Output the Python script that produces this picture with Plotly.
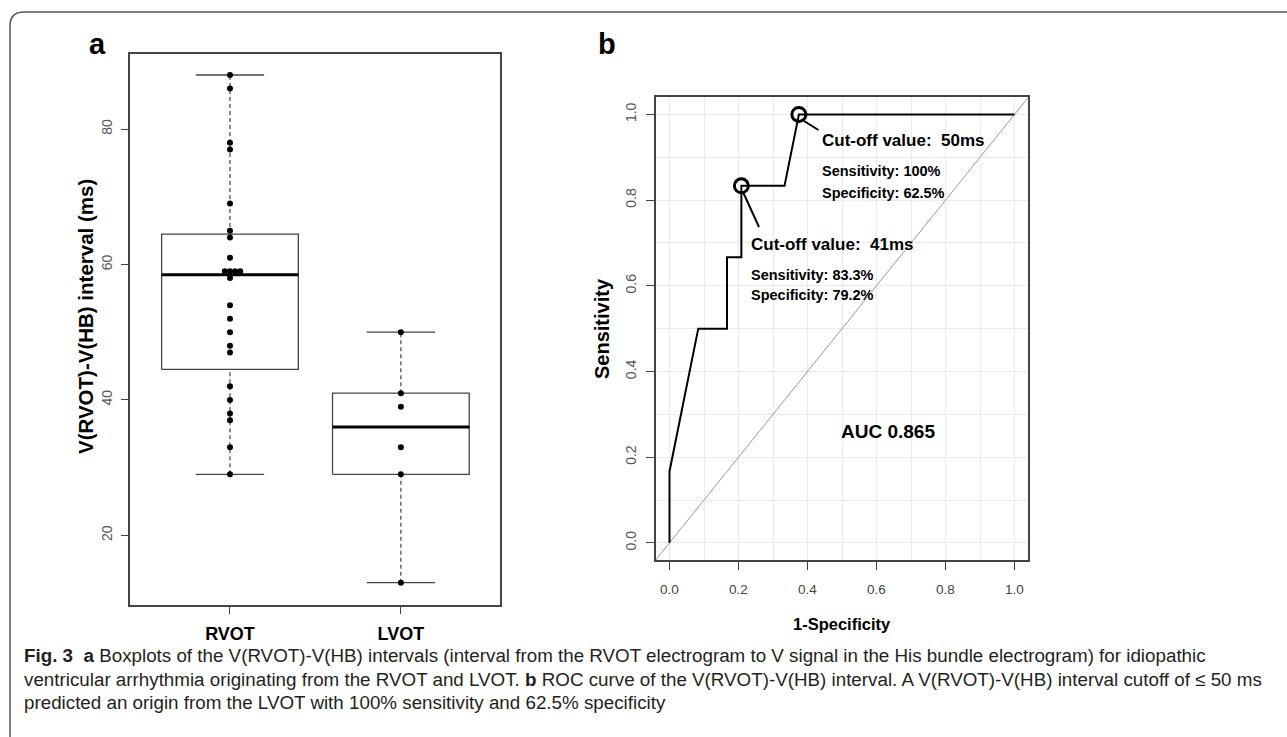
import numpy as np
import plotly.graph_objects as go

# ---------------- data ----------------
groups = ["RVOT", "LVOT"]
rvot_ms = [88, 86, 78, 77, 69, 65, 64, 61, 59, 59, 59, 59, 58, 54, 52, 50, 48, 47, 42, 40, 38, 37, 33, 29]
lvot_ms = [50, 41, 39, 33, 29, 13]
cutoffs_ms = [41, 50]
auc_label = "AUC 0.865"
y_ticks_a = [20, 40, 60, 80]
x_ticks_b = [0.0, 0.2, 0.4, 0.6, 0.8, 1.0]
y_ticks_b = [0.0, 0.2, 0.4, 0.6, 0.8, 1.0]

W, H = 1287, 737
def px(x):
    return x / W
def py(y):
    return 1 - y / H

SANS = "Liberation Sans, Arial, sans-serif"
AXC = "#444444"

def fivenum(v):
    x = np.sort(np.asarray(v, dtype=float))
    n = len(x)
    n4 = np.floor((n + 3) / 2) / 2
    d = np.array([1, n4, (n + 1) / 2, n + 1 - n4, n])
    return 0.5 * (x[np.floor(d).astype(int) - 1] + x[np.ceil(d).astype(int) - 1])

fig = go.Figure()

# ---------------- panel a: boxplots ----------------
bw = 0.4
for gi, vals in enumerate([rvot_ms, lvot_ms]):
    xc = gi + 1
    mn, q1, med, q3, mx = fivenum(vals)
    iqr = q3 - q1
    arr = np.asarray(vals, dtype=float)
    lo = arr[arr >= q1 - 1.5 * iqr].min()
    hi = arr[arr <= q3 + 1.5 * iqr].max()
    for a, b in [(lo, q1), (q3, hi)]:
        fig.add_trace(go.Scatter(x=[xc, xc], y=[a, b], mode="lines",
                                 line=dict(color=AXC, width=1.2, dash="4px,3px"),
                                 xaxis="x", yaxis="y", showlegend=False, hoverinfo="skip"))
    for v in (lo, hi):
        fig.add_trace(go.Scatter(x=[xc - bw / 2, xc + bw / 2], y=[v, v], mode="lines",
                                 line=dict(color=AXC, width=1.3),
                                 xaxis="x", yaxis="y", showlegend=False, hoverinfo="skip"))
    fig.add_trace(go.Scatter(x=[xc - bw, xc + bw, xc + bw, xc - bw, xc - bw],
                             y=[q1, q1, q3, q3, q1], mode="lines",
                             line=dict(color=AXC, width=1.3),
                             xaxis="x", yaxis="y", showlegend=False, hoverinfo="skip"))
    fig.add_trace(go.Scatter(x=[xc - bw, xc + bw], y=[med, med], mode="lines",
                             line=dict(color="black", width=3),
                             xaxis="x", yaxis="y", showlegend=False, hoverinfo="skip"))
    seq = [0, -1, 1, 2, -2, 3, -3]
    counts = {}
    xs, ys = [], []
    for v in vals:
        k = counts.get(v, 0)
        counts[v] = k + 1
        xs.append(xc + seq[k] * 0.03)
        ys.append(v)
    fig.add_trace(go.Scatter(x=xs, y=ys, mode="markers",
                             marker=dict(color="black", size=6),
                             xaxis="x", yaxis="y", showlegend=False))

# ---------------- panel b: ROC ----------------
allv = np.sort(np.unique(np.array(rvot_ms + lvot_ms, dtype=float)))
lv = np.array(lvot_ms, dtype=float)
rv = np.array(rvot_ms, dtype=float)
fpr = [0.0] + [float(np.mean(rv <= t)) for t in allv]
tpr = [0.0] + [float(np.mean(lv <= t)) for t in allv]

fig.add_trace(go.Scatter(x=[-0.04, 1.04], y=[-0.04, 1.04], mode="lines",
                         line=dict(color="#9a9a9a", width=1),
                         xaxis="x2", yaxis="y2", showlegend=False, hoverinfo="skip"))
fig.add_trace(go.Scatter(x=fpr, y=tpr, mode="lines",
                         line=dict(color="black", width=2),
                         xaxis="x2", yaxis="y2", showlegend=False))
cx = [float(np.mean(rv <= c)) for c in cutoffs_ms]
cy = [float(np.mean(lv <= c)) for c in cutoffs_ms]
fig.add_trace(go.Scatter(x=cx, y=cy, mode="markers",
                         marker=dict(symbol="circle-open", size=14, color="black",
                                     line=dict(width=3, color="black")),
                         xaxis="x2", yaxis="y2", showlegend=False))

# ---------------- layout ----------------
a_x0, a_x1, a_y0, a_y1 = 130, 500, 54, 605
b_x0, b_x1, b_y0, b_y1 = 655.7, 1028.3, 97.3, 560

fig.update_layout(
    width=W, height=H,
    margin=dict(l=0, r=0, t=0, b=0),
    paper_bgcolor="white", plot_bgcolor="white",
    showlegend=False,
    xaxis=dict(domain=[px(a_x0), px(a_x1)], range=[0.415, 2.58],
               tickvals=[1, 2], ticktext=["<b>%s</b>" % g for g in groups],
               tickfont=dict(family=SANS, size=18, color="black"),
               ticks="outside", ticklen=7, tickcolor=AXC, tickwidth=1.2,
               showline=True, mirror=True, linecolor=AXC, linewidth=1.5,
               showgrid=False, zeroline=False, ticklabelstandoff=5),
    yaxis=dict(domain=[py(a_y1), py(a_y0)], range=[9.7, 91.1],
               tickvals=y_ticks_a, tickangle=-90,
               tickfont=dict(family=SANS, size=14, color="#555555"),
               ticks="outside", ticklen=7, tickcolor=AXC, tickwidth=1.2,
               showline=True, mirror=True, linecolor=AXC, linewidth=1.5,
               showgrid=False, zeroline=False, ticklabelstandoff=4),
    xaxis2=dict(domain=[px(b_x0), px(b_x1)], range=[-0.04, 1.04],
                tickvals=x_ticks_b, ticktext=["%.1f" % t for t in x_ticks_b],
                tickfont=dict(family=SANS, size=13.5, color="#444444"),
                ticks="outside", ticklen=8, tickcolor=AXC, tickwidth=1.2,
                showline=True, mirror=True, linecolor=AXC, linewidth=1.5,
                showgrid=True, gridcolor="#ebebeb", gridwidth=1,
                minor=dict(dtick=0.1, tick0=0, showgrid=True, gridcolor="#ebebeb", gridwidth=1, ticks=""),
                zeroline=False, ticklabelstandoff=8, anchor="y2"),
    yaxis2=dict(domain=[py(b_y1), py(b_y0)], range=[-0.04, 1.04],
                tickvals=y_ticks_b, ticktext=["%.1f" % t for t in y_ticks_b], tickangle=-90,
                tickfont=dict(family=SANS, size=14, color="#555555"),
                ticks="outside", ticklen=8, tickcolor=AXC, tickwidth=1.2,
                showline=True, mirror=True, linecolor=AXC, linewidth=1.5,
                showgrid=True, gridcolor="#ebebeb", gridwidth=1,
                minor=dict(dtick=0.1, tick0=0, showgrid=True, gridcolor="#ebebeb", gridwidth=1, ticks=""),
                zeroline=False, ticklabelstandoff=4, anchor="x2"),
)

# outer rounded frame
rx, ry = px(14), 14 / H
fx0, fy0, fy1, fx1 = px(10), py(12), py(737), px(1300)
fig.add_shape(type="path", xref="paper", yref="paper",
              path=f"M {fx0},{fy1} L {fx0},{fy0 - ry} Q {fx0},{fy0} {fx0 + rx},{fy0} L {fx1},{fy0}",
              line=dict(color="#555555", width=1.5))

# leader lines from circles
fig.add_shape(type="line", xref="paper", yref="paper",
              x0=px(804), y0=py(121), x1=px(818.5), y1=py(130), line=dict(color="black", width=2))
fig.add_shape(type="line", xref="paper", yref="paper",
              x0=px(743), y0=py(192), x1=px(759), y1=py(227), line=dict(color="black", width=2))

def ann(text, x, y, size, family=SANS, xanchor="left", angle=0, color="black"):
    fig.add_annotation(text=text, x=px(x), y=py(y), xref="paper", yref="paper",
                       xanchor=xanchor, yanchor="middle", showarrow=False, textangle=angle,
                       font=dict(family=family, size=size, color=color))

NB = "\u00a0"
ann("<b>Cut-off value:" + NB + NB + "50ms</b>", 820, 140, 17)
ann("<b>Sensitivity: 100%</b>", 820, 171, 14.5)
ann("<b>Specificity: 62.5%</b>", 820, 193, 14.5)
ann("<b>Cut-off value:" + NB + NB + "41ms</b>", 749, 244, 17)
ann("<b>Sensitivity: 83.3%</b>", 749, 274.5, 14.5)
ann("<b>Specificity: 79.2%</b>", 749, 295, 14.5)
ann("<b>%s</b>" % auc_label, 887.5, 431.5, 19, xanchor="center")

# axis titles
ann("<b>1-Specificity</b>", 842, 624, 16.5, xanchor="center")
ann("<b>Sensitivity</b>", 602, 329, 20, xanchor="center", angle=-90)
ann("<b>V(RVOT)-V(HB) interval (ms)</b>", 86, 317, 20.5, xanchor="center", angle=-90)

# panel labels
ann("<b>a</b>", 87, 44, 29)
ann("<b>b</b>", 596, 44, 29)

# caption
CC = "#231f20"
ann("<b>Fig. 3</b>" + NB + NB + "<b>a</b> Boxplots of the V(RVOT)-V(HB) intervals (interval from the RVOT electrogram to V signal in the His bundle electrogram) for idiopathic",
    22, 655, 18.8, color=CC)
ann("ventricular arrhythmia originating from the RVOT and LVOT. <b>b</b> ROC curve of the V(RVOT)-V(HB) interval. A V(RVOT)-V(HB) interval cutoff of \u2264 50 ms",
    22, 679, 18.8, color=CC)
ann("predicted an origin from the LVOT with 100% sensitivity and 62.5% specificity",
    22, 702, 18.8, color=CC)

fig.write_html("out.html", config={"displayModeBar": False},
               post_script="document.body.style.margin='0px';document.body.style.overflow='hidden';")
